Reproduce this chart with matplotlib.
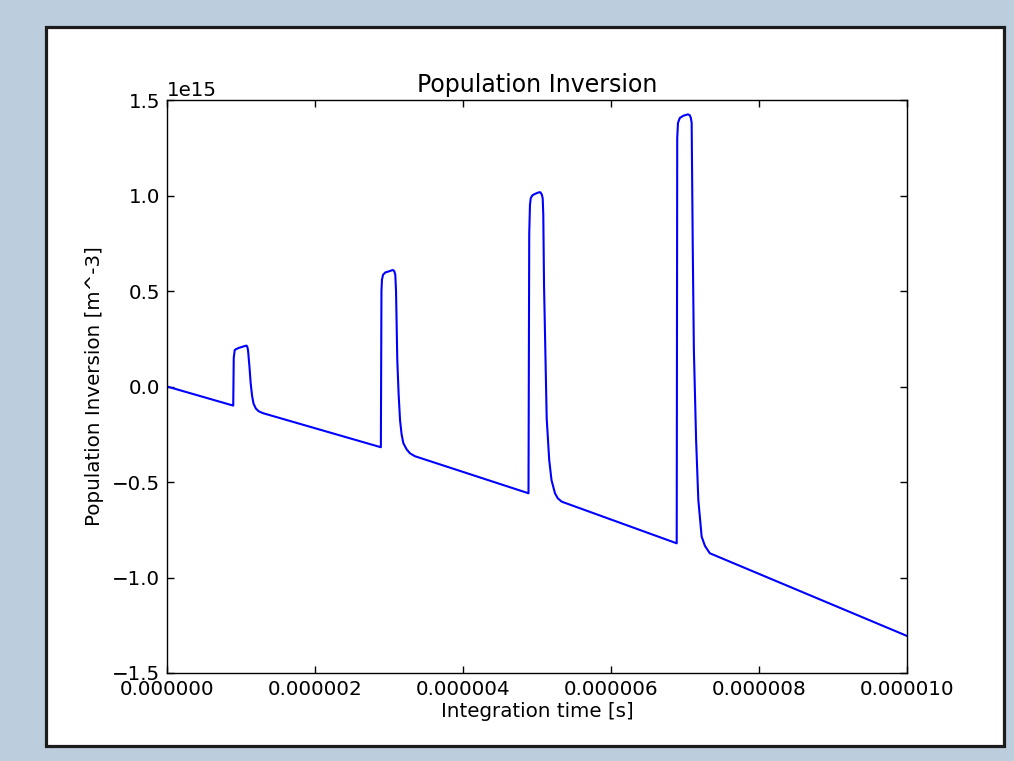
import matplotlib
matplotlib.use('Agg')
import matplotlib.pyplot as plt
from matplotlib.patches import Rectangle
from matplotlib.ticker import FormatStrFormatter

# time in microseconds, inversion in units of 1e15 m^-3
time_us = [0.0, 0.895,
           0.902, 0.915, 0.93, 0.97, 1.02, 1.06, 1.075, 1.085, 1.095, 1.115, 1.13, 1.15, 1.17, 1.20, 1.24, 1.30,
           2.89,
           2.898, 2.905, 2.92, 2.95, 3.00, 3.05, 3.07, 3.085, 3.095, 3.112, 3.13, 3.149, 3.17, 3.194, 3.24,
           3.284, 3.35,
           4.885,
           4.895, 4.905, 4.915, 4.935, 4.97, 5.02, 5.045, 5.065, 5.077, 5.085, 5.095, 5.131, 5.165, 5.196,
           5.243, 5.28, 5.334,
           6.888,
           6.895, 6.905, 6.93, 6.98, 7.04, 7.065, 7.08, 7.09, 7.105, 7.12, 7.15, 7.18, 7.225, 7.27, 7.335,
           10.0]
inversion = [0.0, -0.10,
             0.15, 0.19, 0.195, 0.202, 0.208, 0.213, 0.214, 0.208, 0.19, 0.10, 0.02, -0.05, -0.09, -0.115,
             -0.13, -0.14,
             -0.318,
             0.50, 0.56, 0.585, 0.597, 0.603, 0.61, 0.605, 0.585, 0.50, 0.14, -0.04, -0.175, -0.25, -0.297,
             -0.33, -0.35, -0.365,
             -0.559,
             0.80, 0.95, 0.985, 1.0, 1.008, 1.016, 1.017, 1.005, 0.985, 0.90, 0.531, -0.167, -0.385, -0.49,
             -0.559, -0.585, -0.603,
             -0.821,
             1.30, 1.38, 1.406, 1.418, 1.425, 1.42, 1.405, 1.38, 0.72, 0.19, -0.28, -0.594, -0.786, -0.835,
             -0.873,
             -1.306]

x_ticks_us = [0, 2, 4, 6, 8, 10]
y_ticks = [-1.5, -1.0, -0.5, 0.0, 0.5, 1.0, 1.5]

t = [v * 1e-6 for v in time_us]
n = [v * 1e15 for v in inversion]

plt.rcParams['font.family'] = 'DejaVu Sans'
plt.rcParams['font.size'] = 14.3

fig = plt.figure(figsize=(10.14, 7.61), dpi=100, facecolor='#bccdde')
# white panel with dark frame behind the plot
frame = Rectangle((45.5 / 1014, 1 - 746.3 / 761), (1004.3 - 45.5) / 1014, (746.3 - 27.2) / 761,
                  transform=fig.transFigure, facecolor='white', edgecolor='#1c1c1c',
                  linewidth=2.3, zorder=-1)
fig.patches.append(frame)

ax = fig.add_axes([167 / 1014, 1 - 673 / 761, 740 / 1014, 573 / 761])
ax.set_zorder(1)
ax.plot(t, n, color='#0000ff', linewidth=1.5)

ax.set_xlim(0, 1e-5)
ax.set_ylim(-1.5e15, 1.5e15)
ax.set_xticks([v * 1e-6 for v in x_ticks_us])
ax.set_yticks([v * 1e15 for v in y_ticks])
ax.xaxis.set_major_formatter(FormatStrFormatter('%f'))
ax.tick_params(direction='in', length=5, width=1, pad=5, top=True, right=True, labelsize=14.3)
ax.yaxis.get_offset_text().set_fontsize(14.3)
for s in ax.spines.values():
    s.set_linewidth(1)
    s.set_color('black')

ax.set_title('Population Inversion', fontsize=17, pad=6)
ax.set_xlabel('Integration time [s]', fontsize=14.3, labelpad=2)
ax.set_ylabel('Population Inversion [m^-3]', fontsize=14.3, labelpad=6)

fig.savefig('out.png', dpi=100, facecolor=fig.get_facecolor())
